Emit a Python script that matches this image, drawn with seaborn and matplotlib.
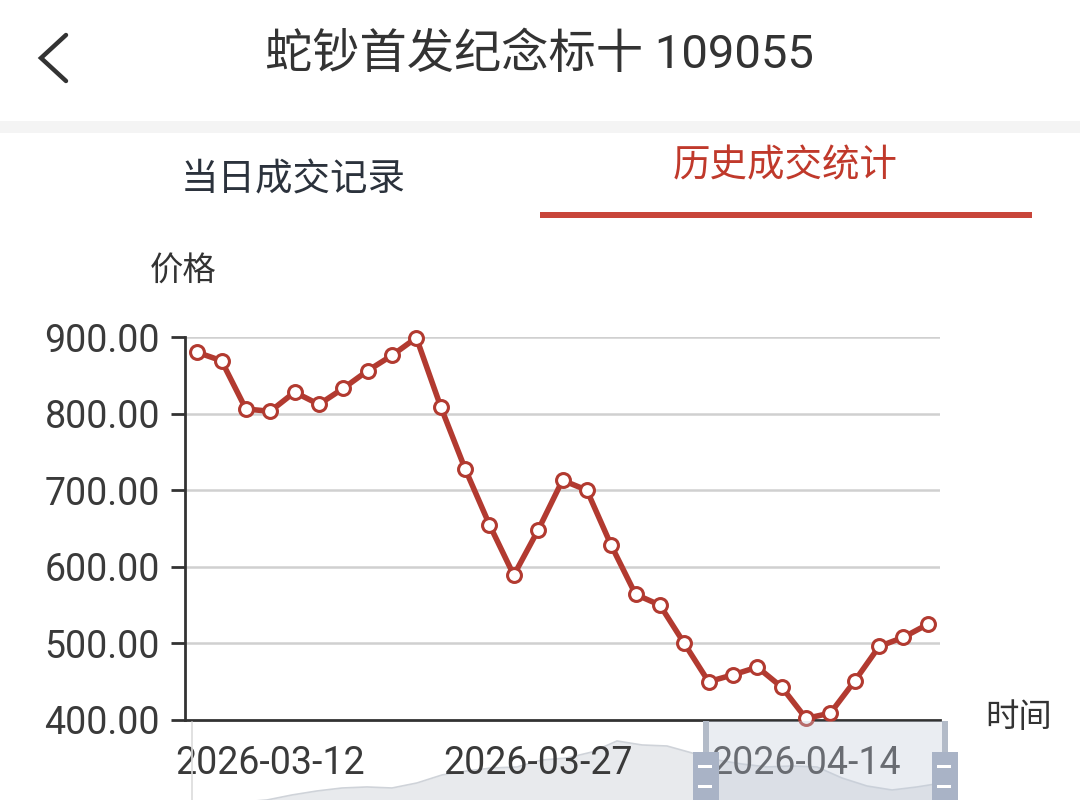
import matplotlib
matplotlib.use("Agg")
import matplotlib.pyplot as plt
import seaborn as sns
import pandas as pd
from matplotlib.patches import Rectangle
from matplotlib.lines import Line2D

# trading days shown in the zoom window
dates = ["2026-03-09", "2026-03-10", "2026-03-11", "2026-03-12", "2026-03-13",
         "2026-03-16", "2026-03-17", "2026-03-18", "2026-03-19", "2026-03-20",
         "2026-03-23", "2026-03-24", "2026-03-25", "2026-03-26", "2026-03-27",
         "2026-03-30", "2026-03-31", "2026-04-01", "2026-04-02", "2026-04-03",
         "2026-04-07", "2026-04-08", "2026-04-09", "2026-04-10", "2026-04-13",
         "2026-04-14", "2026-04-15", "2026-04-16", "2026-04-17", "2026-04-20",
         "2026-04-21"]
prices = [880, 869, 806, 803, 828, 812, 833, 856, 876, 899,
          809, 728, 655, 589, 648, 713, 700, 628, 564, 550,
          500, 450, 459, 469, 443, 402, 409, 451, 496, 508, 525]
y_ticks = [400, 500, 600, 700, 800, 900]
label_every = 11

# rough shape of the full history shown in the slider shadow
shadow = [110, 183, 226, 255, 328, 386, 429, 444, 429, 502, 618, 676, 719, 734,
          835, 864, 951, 1111, 1053, 1038, 937, 835, 777, 734, 748, 734, 574,
          458, 400, 444, 502]

title = "蛇钞首发纪念标十 109055"
tab_left = "当日成交记录"
tab_right = "历史成交统计"

RED = "#b23a30"
TXT = "#333333"
W, H = 1080, 800

sns.set_theme(style="white")
plt.rcParams["font.family"] = ["Roboto", "Noto Sans CJK SC", "DejaVu Sans"]

fig = plt.figure(figsize=(10.8, 8), dpi=100)
fig.patch.set_facecolor("white")


def fx(px):
    return px / W


def fy(py):
    return 1 - py / H


# ---- header ----
fig.add_artist(Line2D([fx(66), fx(41), fx(66)], [fy(35), fy(58), fy(81)],
                      color=TXT, lw=3.2, solid_capstyle="round",
                      solid_joinstyle="miter"))
fig.text(fx(539), fy(55), title, ha="center", va="center", fontsize=34, color=TXT)
fig.add_artist(Rectangle((0, fy(133)), 1, fy(121) - fy(133),
                         transform=fig.transFigure, color="#f4f4f4", lw=0))
fig.text(fx(293), fy(180), tab_left, ha="center", va="center", fontsize=27,
         color="#2b323c")
fig.text(fx(785), fy(166), tab_right, ha="center", va="center", fontsize=27,
         color="#c0392b")
fig.add_artist(Rectangle((fx(540), fy(218)), fx(1032) - fx(540), fy(212) - fy(218),
                         transform=fig.transFigure, color="#c8453a", lw=0))

# ---- slider shadow ----
ax_s = fig.add_axes([fx(192), fy(800), fx(942) - fx(192), fy(740) - fy(800)])
sx = list(range(len(shadow)))
ax_s.fill_between(sx, 0, shadow, color="#e8eaed", lw=0)
sns.lineplot(x=sx, y=shadow, ax=ax_s, color="#cfd3d9", lw=1.2)
ax_s.set_xlim(0, len(shadow) - 1)
ax_s.set_ylim(255, 1125)
ax_s.axis("off")

# ---- main chart ----
ax = fig.add_axes([fx(185), fy(720), fx(940) - fx(185), fy(337) - fy(720)])
ax.set_facecolor("none")
df = pd.DataFrame({"idx": range(len(prices)), "price": prices, "date": dates})
sns.lineplot(data=df, x="idx", y="price", ax=ax, color=RED, lw=4,
             marker="o", markersize=10, markerfacecolor="white",
             markeredgecolor=RED, markeredgewidth=2.2, zorder=5, clip_on=False)

ax.set_xlim(-0.5, len(prices) - 0.5)
ax.set_ylim(y_ticks[0], y_ticks[-1])
ax.set_yticks(y_ticks)
ax.set_yticklabels([f"{v:.2f}" for v in y_ticks], fontsize=27, color="#3a3a3a")
lab_idx = list(range(3, len(prices), label_every))
ax.set_xticks(lab_idx)
ax.set_xticklabels([dates[i] for i in lab_idx], fontsize=27, color="#3a3a3a")
ax.set_xticks([i - 0.5 for i in lab_idx] + [len(prices) - 0.5], minor=True)
ax.tick_params(axis="x", which="major", length=0, pad=18)
ax.tick_params(axis="x", which="minor", length=9, width=2, color=TXT,
               direction="out")
ax.tick_params(axis="y", length=10, width=2, color=TXT, pad=8, direction="out",
               left=True)
ax.set_xlabel("")
ax.set_ylabel("")
for v in y_ticks[1:]:
    ax.axhline(v, color="#d0d0d0", lw=1.8, zorder=1)
for side in ["top", "right"]:
    ax.spines[side].set_visible(False)
for side in ["left", "bottom"]:
    ax.spines[side].set_color(TXT)
    ax.spines[side].set_linewidth(2)

fig.text(fx(183), fy(272), "价格", ha="center", va="center", fontsize=24, color=TXT)
fig.text(fx(1019), fy(718), "时间", ha="center", va="center", fontsize=24, color=TXT)

# ---- slider window & handles ----
fig.add_artist(Line2D([fx(192), fx(192)], [fy(722), fy(800)], color="#dcdcdc", lw=1.2))
fig.add_artist(Rectangle((fx(706), fy(800)), fx(945) - fx(706), fy(721) - fy(800),
                         transform=fig.transFigure, color="#c3ccdb", alpha=0.35,
                         lw=0, zorder=6))
for x0 in (706, 945):
    fig.add_artist(Rectangle((fx(x0 - 3), fy(752)), fx(6), fy(721) - fy(752),
                             transform=fig.transFigure, color="#b3bbc8", lw=0,
                             zorder=7))
    fig.add_artist(Rectangle((fx(x0 - 13), fy(800)), fx(26), fy(752) - fy(800),
                             transform=fig.transFigure, color="#a9b3c6", lw=0,
                             zorder=7))
    for yy in (766, 786):
        fig.add_artist(Rectangle((fx(x0 - 8), fy(yy + 2)), fx(14), 3 / H,
                                 transform=fig.transFigure, color="white", lw=0,
                                 zorder=8))

plt.savefig("out.png", dpi=100)
